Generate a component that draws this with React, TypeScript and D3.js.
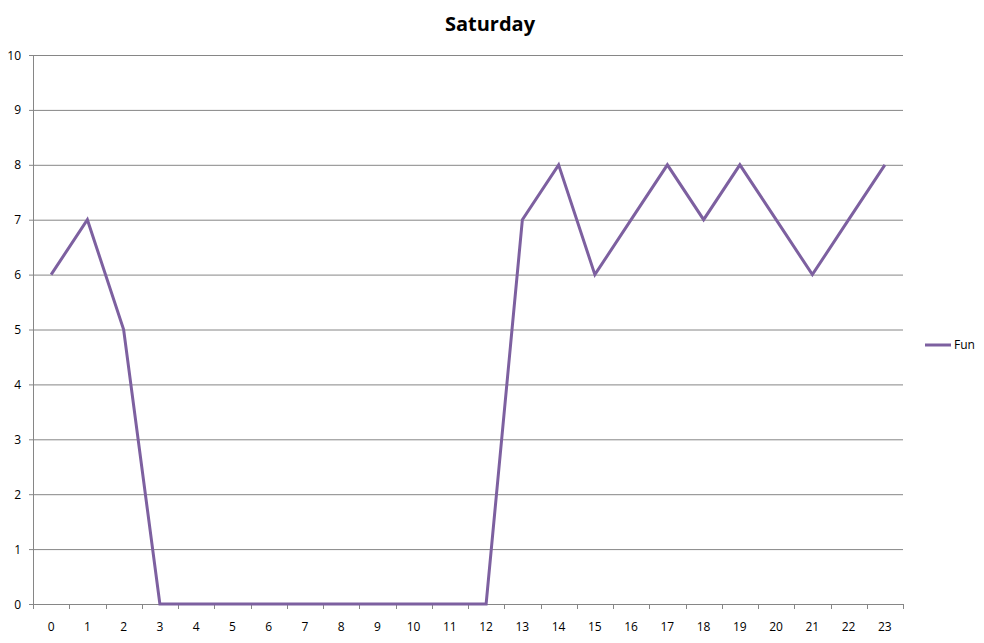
import React, { useEffect, useRef } from 'react';
import * as d3 from 'd3';

const hours = ['0','1','2','3','4','5','6','7','8','9','10','11','12','13','14','15','16','17','18','19','20','21','22','23'];
const fun = [6, 7, 5, 0, 0, 0, 0, 0, 0, 0, 0, 0, 0, 7, 8, 6, 7, 8, 7, 8, 7, 6, 7, 8];
const yTicks = [0, 1, 2, 3, 4, 5, 6, 7, 8, 9, 10];

const App = () => {
  const ref = useRef<SVGSVGElement>(null);

  useEffect(() => {
    const width = 984, height = 643;
    const margin = { top: 55, right: 81, bottom: 39, left: 33 };
    const svg = d3.select(ref.current);
    svg.selectAll('*').remove();
    const font = '"Open Sans", sans-serif';

    const x = d3.scaleBand().domain(hours).range([margin.left, width - margin.right]);
    const y = d3.scaleLinear().domain([0, 10]).range([height - margin.bottom, margin.top]);

    svg.append('rect').attr('width', width).attr('height', height).attr('fill', '#fff');

    // gridlines
    svg.append('g')
      .selectAll('line')
      .data(yTicks)
      .enter()
      .append('line')
      .attr('x1', margin.left - 4)
      .attr('x2', width - margin.right)
      .attr('y1', d => y(d) + 0.5)
      .attr('y2', d => y(d) + 0.5)
      .attr('stroke', '#868686')
      .attr('stroke-width', 1);

    // y axis line
    svg.append('line')
      .attr('x1', margin.left + 0.5).attr('x2', margin.left + 0.5)
      .attr('y1', y(10)).attr('y2', y(0))
      .attr('stroke', '#868686');

    svg.append('g')
      .selectAll('text')
      .data(yTicks)
      .enter()
      .append('text')
      .attr('x', 21)
      .attr('y', d => y(d) + 4.5)
      .attr('text-anchor', 'end')
      .attr('font-family', font)
      .attr('font-size', 12)
      .attr('fill', '#000')
      .text(d => d);

    // x ticks at band boundaries
    const bounds = hours.map(h => x(h) as number).concat([width - margin.right]);
    svg.append('g')
      .selectAll('line')
      .data(bounds)
      .enter()
      .append('line')
      .attr('x1', d => Math.round(d) + 0.5)
      .attr('x2', d => Math.round(d) + 0.5)
      .attr('y1', y(0))
      .attr('y2', y(0) + 5)
      .attr('stroke', '#868686');

    svg.append('g')
      .selectAll('text')
      .data(hours)
      .enter()
      .append('text')
      .attr('x', d => (x(d) as number) + x.bandwidth() / 2)
      .attr('y', y(0) + 27)
      .attr('text-anchor', 'middle')
      .attr('font-family', font)
      .attr('font-size', 12)
      .attr('fill', '#000')
      .text(d => d);

    // the line
    svg.append('path')
      .datum(fun)
      .attr('fill', 'none')
      .attr('stroke', '#7D60A0')
      .attr('stroke-width', 3)
      .attr('stroke-linejoin', 'miter')
      .attr('d', d3.line<number>()
        .x((d, i) => (x(hours[i]) as number) + x.bandwidth() / 2)
        .y(d => y(d)));

    // title
    svg.append('text')
      .attr('x', 490)
      .attr('y', 31)
      .attr('text-anchor', 'middle')
      .attr('font-family', font)
      .attr('font-size', 20)
      .attr('font-weight', 'bold')
      .text('Saturday');

    // legend
    svg.append('line')
      .attr('x1', 925).attr('x2', 951)
      .attr('y1', 345).attr('y2', 345)
      .attr('stroke', '#7D60A0')
      .attr('stroke-width', 3);
    svg.append('text')
      .attr('x', 954)
      .attr('y', 349)
      .attr('font-family', font)
      .attr('font-size', 12)
      .text('Fun');
  });

  return (
    <svg ref={ref} width={984} height={643} style={{ position: 'absolute', left: 0, top: 0 }} />
  );
};

export default App;
